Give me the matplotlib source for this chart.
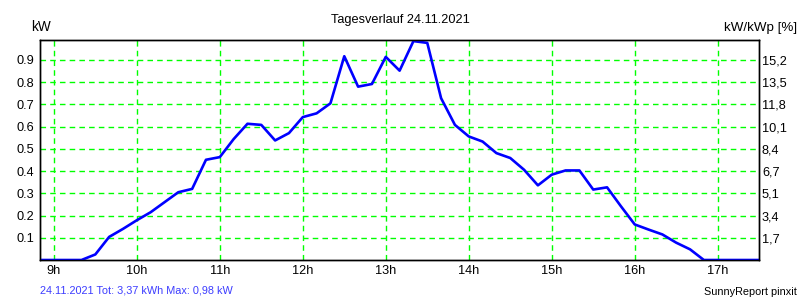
import numpy as np
import matplotlib
matplotlib.use('Agg')
import matplotlib.pyplot as plt

# Daten: Leistung alle 10 Minuten (kW)
zeit_h = np.arange(8 + 50/60, 17.5 + 1e-6, 10/60)
leistung_kw = [0, 0, 0, 0, 0.025, 0.104, 0.14, 0.179, 0.215, 0.26, 0.305, 0.32,
               0.451, 0.463, 0.544, 0.613, 0.608, 0.538, 0.571, 0.643, 0.66, 0.705,
               0.917, 0.78, 0.792, 0.914, 0.852, 0.985, 0.977, 0.728, 0.608, 0.556,
               0.533, 0.481, 0.459, 0.406, 0.336, 0.384, 0.403, 0.403, 0.317, 0.327,
               0.242, 0.16, 0.137, 0.115, 0.078, 0.048, 0, 0, 0, 0, 0, 0, 0, 0, 0]
leistung_kw = leistung_kw[:len(zeit_h)]

y_ticks = [0.1, 0.2, 0.3, 0.4, 0.5, 0.6, 0.7, 0.8, 0.9]
y_labels_links = ['0.1', '0.2', '0.3', '0.4', '0.5', '0.6', '0.7', '0.8', '0.9']
y_labels_rechts = ['1,7', '3,4', '5,1', '6,7', '8,4', '10,1', '11,8', '13,5', '15,2']
x_ticks = [9, 10, 11, 12, 13, 14, 15, 16, 17]
x_labels = ['9h', '10h', '11h', '12h', '13h', '14h', '15h', '16h', '17h']

plt.rcParams['font.family'] = ['Liberation Sans', 'DejaVu Sans']
plt.rcParams['font.size'] = 9.2

fig = plt.figure(figsize=(8, 3), dpi=100)
ax = fig.add_axes([0.05, 0.1333, 0.899, 0.7334])

ax.plot(zeit_h, leistung_kw, color='#0000ff', linewidth=1.9, zorder=3)

ax.set_xlim(8 + 50/60, 17.5)
ax.set_ylim(0, 0.99)
ax.set_xticks(x_ticks)
ax.set_xticklabels(x_labels)
ax.set_yticks(y_ticks)
ax.set_yticklabels(y_labels_links)
ax.tick_params(axis='x', length=0, pad=3.5, colors='black')
ax.tick_params(axis='y', length=0, pad=4, colors='black')
ax.grid(True, color='#00ff00', linestyle=(0, (4, 3)), linewidth=1)

ax2 = ax.twinx()
ax2.set_ylim(ax.get_ylim())
ax2.set_yticks(y_ticks)
ax2.set_yticklabels(y_labels_rechts)
ax2.tick_params(length=0, pad=2)

for a in (ax, ax2):
    for s in a.spines.values():
        s.set_color('black')
        s.set_linewidth(1)

fig.text(0.5, 0.933, 'Tagesverlauf 24.11.2021', ha='center', va='center')
fig.text(0.039, 0.91, 'kW', ha='left', va='center', fontsize=9.8)
fig.text(0.996, 0.907, 'kW/kWp [%]', ha='right', va='center', fontsize=9.6)
fig.text(0.05, 0.033, '24.11.2021 Tot: 3,37 kWh Max: 0,98 kW', ha='left', va='center',
         color='#3c3cff', fontsize=7.8)
fig.text(0.996, 0.027, 'SunnyReport pinxit', ha='right', va='center', fontsize=7.8)

plt.savefig('out.png', dpi=100)
